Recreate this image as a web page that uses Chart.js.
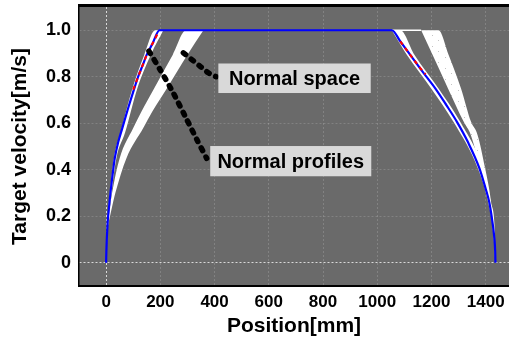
<!DOCTYPE html>
<html>
<head>
<meta charset="utf-8">
<script src="https://cdn.jsdelivr.net/npm/chart.js@4.4.1/dist/chart.umd.min.js"></script>
<style>
  html, body { margin: 0; padding: 0; background: #fff; }
  #chart { display: block; }
</style>
</head>
<body>
<canvas id="chart" width="509" height="342"></canvas>
<script>
// ticks
var xTicks = [0, 200, 400, 600, 800, 1000, 1200, 1400];
var xTickLabels = ["0", "200", "400", "600", "800", "1000", "1200", "1400"];
var yTicks = [0, 0.2, 0.4, 0.6, 0.8, 1.0];
var yTickLabels = ["0", "0.2", "0.4", "0.6", "0.8", "1.0"];

// target velocity profile, [position mm, velocity m/s]
var profile = [[0,0],[1,0.05],[5,0.16],[10,0.23],[16,0.30],[24,0.38],[32,0.45],[45,0.52],[60,0.58],[80,0.66],
  [104,0.75],[118,0.80],[135,0.85],[150,0.895],[170,0.94],[197,1.0],[1054,1.0],[1085,0.952],[1121,0.895],
  [1165,0.825],[1214,0.75],[1255,0.678],[1294,0.606],[1334,0.52],[1377,0.406],[1400,0.318],[1413,0.261],
  [1425,0.175],[1431,0.117],[1435,0.05],[1436,0]];
var redLeft = [[100,0.745],[118,0.80],[135,0.85],[150,0.895],[170,0.94],[190,0.985]];
var redRight = [[1085,0.952],[1121,0.895],[1150,0.85],[1178,0.81]];

// normal profiles (narrow bundle round the profile)
var profLeftA = [[1,0.05],[4,0.16],[14,0.30],[29,0.45],[53,0.56],[97,0.75],[141,0.895],[181,1.0],[211,1.0]];
var profLeftB = [[2,0.05],[7,0.16],[20,0.30],[38,0.45],[70,0.56],[115,0.75],[165,0.895],[211,1.0]];
var profRightA = [[1054,1.0],[1109,0.895],[1199,0.75],[1281,0.606],[1371,0.406],[1409,0.26],[1429,0.117],[1434,0.02]];
var profRightB = [[1054,1.0],[1085,1.0],[1137,0.895],[1226,0.75],[1306,0.606],[1389,0.406],[1419,0.26],[1435,0.117],[1437,0.02]];

// normal space (wide band)
var spaceLeftA = [[6,0.16],[13,0.23],[22,0.30],[50,0.45],[100,0.58],[130,0.65],[177,0.75],[246,0.895],[295,1.0],[359,1.0]];
var spaceLeftB = [[7,0.16],[20,0.23],[34,0.30],[75,0.45],[137,0.58],[170,0.65],[224,0.75],[300,0.895],[359,1.0]];
var spaceRightA = [[1162,1.0],[1204,0.895],[1261,0.75],[1319,0.606],[1345,0.55],[1380,0.406],[1414,0.26],[1428,0.15]];
var spaceRightB = [[1162,1.0],[1226,1.0],[1263,0.895],[1309,0.75],[1346,0.606],[1370,0.55],[1398,0.406],[1420,0.26],[1429,0.15]];
var spaceTop = [[1054,1.0],[1162,1.0]];

// annotation arrows and labels
var arrowProfiles = [[158,0.91],[199,0.831],[248,0.73],[298,0.615],[335,0.529],[371,0.449]];
var arrowSpace = [[285,0.903],[316,0.874],[347,0.845],[377,0.817],[406,0.80]];
var notes = [
  {text: "Normal space", x1: 414, x2: 976, y1: 0.857, y2: 0.730},
  {text: "Normal profiles", x1: 384, x2: 978, y1: 0.502, y2: 0.372}
];

function pts(a) {
  return a.map(function(p) { return {x: p[0], y: p[1]}; });
}

// sparse speckle for the sampled space on the right
var pc = document.createElement('canvas');
pc.width = 13; pc.height = 11;
var pctx = pc.getContext('2d');
pctx.fillStyle = '#ffffff';
pctx.fillRect(0, 0, 13, 11);
pctx.fillStyle = '#c4c4c4';
pctx.fillRect(3, 2, 1, 1);
pctx.fillRect(9, 7, 1, 1);
var speckle = pctx.createPattern(pc, 'repeat');

var font = '"Liberation Sans", Arial, sans-serif';

function edge(a, fill, bg) {
  return {data: pts(a), borderWidth: 0, borderColor: 'rgba(0,0,0,0)', pointRadius: 0,
    fill: fill, backgroundColor: bg, cubicInterpolationMode: 'monotone', order: 5};
}

var datasets = [
  {data: pts(arrowProfiles), borderColor: '#000', borderWidth: 5.5, borderDash: [3, 7], borderCapStyle: 'round',
    pointRadius: 0, fill: false, tension: 0.2, order: 0},
  {data: pts(arrowSpace), borderColor: '#000', borderWidth: 5.5, borderDash: [3, 7], borderCapStyle: 'round',
    pointRadius: 0, fill: false, tension: 0.3, order: 0},
  {data: pts(redLeft), borderColor: '#ff0000', borderWidth: 2.2, borderDash: [4, 4], pointRadius: 0,
    fill: false, cubicInterpolationMode: 'monotone', order: 1},
  {data: pts(redRight), borderColor: '#ff0000', borderWidth: 2.2, borderDash: [4, 4], pointRadius: 0,
    fill: false, cubicInterpolationMode: 'monotone', order: 1},
  {data: pts(profile), borderColor: '#0000ff', borderWidth: 2.2, pointRadius: 0, fill: false,
    cubicInterpolationMode: 'monotone', order: 2},
  {data: pts(spaceTop), borderColor: '#ffffff', borderWidth: 1.5, pointRadius: 0, fill: false, order: 3},
  edge(profLeftA, '+1', '#ffffff'),
  edge(profLeftB, false, '#ffffff'),
  edge(profRightA, '+1', '#ffffff'),
  edge(profRightB, false, '#ffffff'),
  edge(spaceLeftA, '+1', '#ffffff'),
  edge(spaceLeftB, false, '#ffffff'),
  edge(spaceRightA, '+1', speckle),
  edge(spaceRightB, false, speckle)
];

var framePlugin = {
  id: 'frame',
  beforeDraw: function(chart) {
    var a = chart.chartArea, ctx = chart.ctx;
    ctx.save();
    ctx.fillStyle = '#6a6a6a';
    ctx.fillRect(a.left, a.top, a.right - a.left, a.bottom - a.top);
    ctx.restore();
  },
  afterDatasetsDraw: function(chart) {
    var ctx = chart.ctx, xs = chart.scales.x, ys = chart.scales.y;
    ctx.save();
    ctx.font = 'bold 20px ' + font;
    ctx.textAlign = 'center';
    ctx.textBaseline = 'middle';
    notes.forEach(function(n) {
      var l = xs.getPixelForValue(n.x1), r = xs.getPixelForValue(n.x2);
      var t = ys.getPixelForValue(n.y1), b = ys.getPixelForValue(n.y2);
      ctx.fillStyle = '#d9d9d9';
      ctx.fillRect(l, t, r - l, b - t);
      ctx.fillStyle = '#000';
      ctx.fillText(n.text, (l + r) / 2, (t + b) / 2 + 1);
    });
    ctx.restore();
  },
  afterDraw: function(chart) {
    var a = chart.chartArea, ctx = chart.ctx;
    ctx.save();
    ctx.fillStyle = '#000';
    ctx.fillRect(a.left - 1, a.top - 3, a.right - a.left + 1, 3);
    ctx.restore();
  }
};

function gridColor(c) {
  return c.tick && c.tick.value === 0 ? 'rgba(255,255,255,0.75)' : 'rgba(255,255,255,0.16)';
}

window.onload = function() {
  var ctx = document.getElementById('chart').getContext('2d');
  window.velChart = new Chart(ctx, {
    type: 'line',
    data: {datasets: datasets},
    plugins: [framePlugin],
    options: {
      responsive: false,
      animation: false,
      devicePixelRatio: 1,
      layout: {padding: {top: 7, right: 0, left: 0, bottom: 0}},
      plugins: {
        legend: {display: false},
        tooltip: {enabled: false}
      },
      scales: {
        x: {
          type: 'linear',
          min: -100,
          max: 1486,
          afterBuildTicks: function(s) { s.ticks = xTicks.map(function(v) { return {value: v}; }); },
          afterFit: function(s) { s.height = 56; s.paddingLeft = 0; s.paddingRight = 0; },
          grid: {color: gridColor, drawTicks: false, lineWidth: 1},
          border: {color: '#000', width: 2, dash: [2, 2]},
          ticks: {
            color: '#000', padding: 6, maxRotation: 0, font: {family: font, size: 17, weight: 'bold'},
            callback: function(v, i) { return xTickLabels[i]; }
          },
          title: {display: true, text: 'Position[mm]', color: '#000', padding: {top: 0, bottom: 3},
            font: {family: font, size: 21, weight: 'bold'}}
        },
        y: {
          min: -0.1,
          max: 1.1,
          afterBuildTicks: function(s) { s.ticks = yTicks.map(function(v) { return {value: v}; }); },
          afterFit: function(s) { s.width = 79; s.paddingTop = 0; s.paddingBottom = 0; },
          grid: {color: gridColor, drawTicks: false, lineWidth: 1},
          border: {color: '#000', width: 1.5, dash: [2, 2]},
          ticks: {
            color: '#000', padding: 8, font: {family: font, size: 18, weight: 'bold'},
            callback: function(v, i) { return yTickLabels[i]; }
          },
          title: {display: true, text: 'Target velocity[m/s]', color: '#000', padding: {top: 8, bottom: 0},
            font: {family: font, size: 21, weight: 'bold'}}
        }
      }
    }
  });
};
</script>
</body>
</html>
